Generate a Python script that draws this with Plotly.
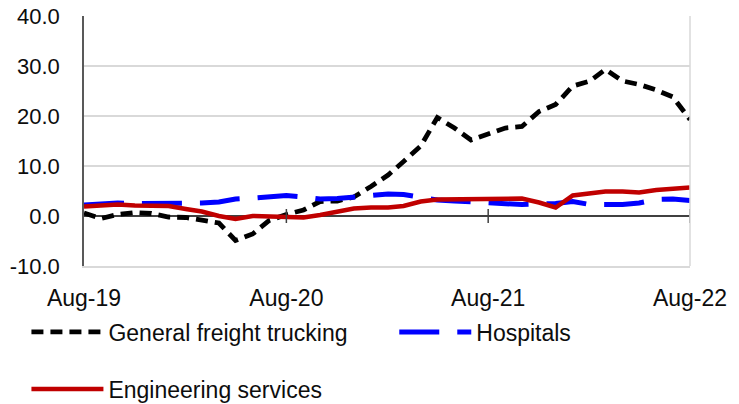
import plotly.graph_objects as go
import pandas as pd

months = pd.date_range("2019-08-01", "2022-08-01", freq="MS")
tick_vals = ["2019-08-01", "2020-08-01", "2021-08-01", "2022-08-01"]
tick_text = ["Aug-19", "Aug-20", "Aug-21", "Aug-22"]
y_tick_vals = [-10, 0, 10, 20, 30, 40]
y_tick_text = ["-10.0", "0.0", "10.0", "20.0", "30.0", "40.0"]

trucking = [0.6, -0.5, 0.3, 0.7, 0.5, -0.2, -0.3, -0.8, -1.4, -4.9, -3.6, -0.9, 0.3,
            1.2, 2.9, 3.0, 3.8, 5.9, 8.2, 10.9, 14.0, 19.7, 17.6, 15.2, 16.3,
            17.6, 17.9, 20.9, 22.3, 26.0, 27.0, 29.3, 27.0, 26.3, 25.2, 23.8, 19.3]
hospitals = [2.2, 2.5, 2.6, 2.5, 2.5, 2.6, 2.6, 2.6, 2.8, 3.4, 3.6, 3.9, 4.1,
             3.8, 3.4, 3.5, 3.8, 4.2, 4.4, 4.3, 3.7, 3.2, 3.0, 2.8, 2.6,
             2.4, 2.3, 2.4, 2.5, 2.9, 2.3, 2.3, 2.3, 2.6, 3.3, 3.4, 3.1]
engineering = [1.9, 2.1, 2.3, 2.1, 2.1, 2.0, 1.4, 0.9, 0.0, -0.6, 0.0, -0.1, 0.0,
               -0.3, 0.2, 0.9, 1.5, 1.7, 1.7, 2.0, 2.9, 3.3, 3.3, 3.5, 3.4,
               3.4, 3.5, 2.7, 1.7, 4.1, 4.5, 4.9, 4.9, 4.7, 5.2, 5.4, 5.7]

FONT = "Liberation Sans"
TXT = "#0d0d0d"
fig = go.Figure()
fig.add_trace(go.Scatter(x=months, y=trucking, mode="lines", name="General freight trucking",
                         line=dict(color="#000000", width=4.8, dash="12px,7px"), legend="legend"))
fig.add_trace(go.Scatter(x=months, y=hospitals, mode="lines", name="Hospitals",
                         line=dict(color="#0000ff", width=5, dash="40px,18px"), legend="legend3"))
fig.add_trace(go.Scatter(x=months, y=engineering, mode="lines", name="Engineering services",
                         line=dict(color="#c00000", width=4.5), legend="legend2"))

# tick marks crossing the zero line
for tv in tick_vals[1:]:
    fig.add_shape(type="line", xref="x", yref="y", x0=tv, x1=tv, ysizemode="pixel",
                  yanchor=0, y0=-7, y1=7, line=dict(color="#404040", width=1.5))
fig.add_shape(type="line", xref="paper", yref="paper", x0=1, x1=1, y0=0, y1=1,
              line=dict(color="#d9d9d9", width=1.5))

leg = dict(orientation="h", xanchor="left", yanchor="middle", itemwidth=72,
           font=dict(family=FONT, size=23, color=TXT), bgcolor="rgba(0,0,0,0)")

fig.update_layout(
    width=739, height=404,
    margin=dict(l=84, r=49, t=16, b=138, autoexpand=False),
    paper_bgcolor="white", plot_bgcolor="white",
    font=dict(family=FONT, size=23, color=TXT),
    xaxis=dict(range=[months[0], months[-1]], tickvals=tick_vals, ticktext=tick_text,
               showgrid=False, zeroline=False, showline=True, linecolor="#d9d9d9", linewidth=1.5,
               ticks="", ticklabelstandoff=11, tickfont=dict(size=23),
               ticklabeloverflow="allow"),
    yaxis=dict(range=[-10, 40], tickvals=y_tick_vals, ticktext=y_tick_text,
               showgrid=True, gridcolor="#d9d9d9", gridwidth=1.5,
               zeroline=True, zerolinecolor="#404040", zerolinewidth=1.5,
               showline=True, linecolor="#595959", linewidth=1.5, ticks="",
               ticklabelstandoff=18, tickfont=dict(size=22), ticklabeloverflow="allow"),
    legend=dict(leg, x=-0.095, y=-0.264),
    legend3=dict(leg, x=0.512, y=-0.264),
    legend2=dict(leg, x=-0.095, y=-0.492),
    showlegend=True,
)

fig.write_html("out.html", config={"displayModeBar": False},
               post_script="document.body.style.margin='0';")
